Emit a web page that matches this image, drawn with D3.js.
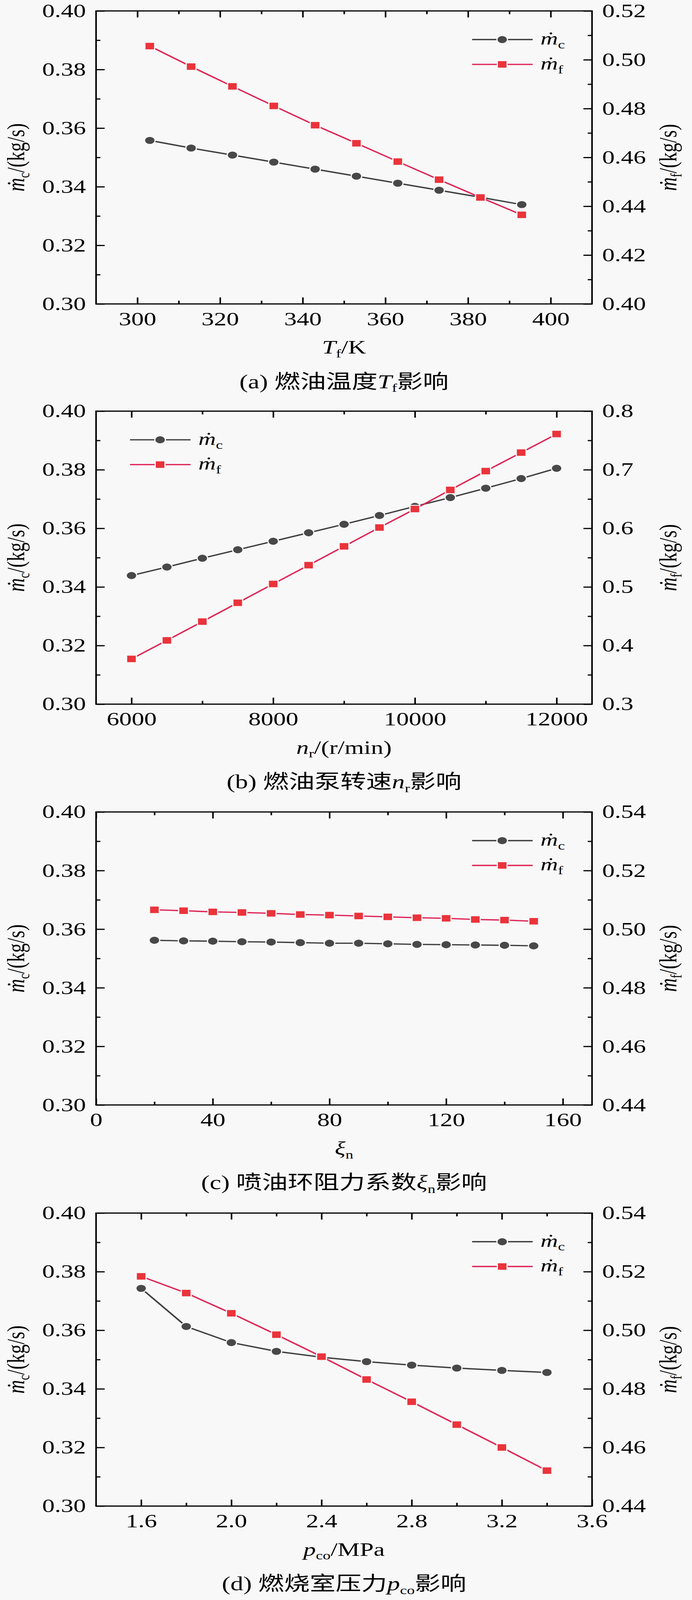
<!DOCTYPE html>
<html>
<head>
<meta charset="utf-8">
<script src="https://cdn.jsdelivr.net/npm/d3@7"></script>
<style>
  html, body { margin: 0; padding: 0; background: #f8f8f8; overflow: hidden; }
  svg { display: block; }
  text { font-family: "Liberation Serif", "Times New Roman", serif; fill: #000; }
  .cjk { font-family: "Noto Sans CJK SC", sans-serif; }
</style>
</head>
<body>
<svg id="chart"></svg>
<script>
// ---- data ----
// (a) fuel temperature
const tempK = [303, 313, 323, 333, 343, 353, 363, 373, 383, 393];
const tempMc = [0.3558, 0.3532, 0.3508, 0.3484, 0.3460, 0.3436, 0.3412, 0.3388, 0.3364, 0.3339];
const tempMf = [0.5056, 0.4972, 0.4891, 0.4811, 0.4732, 0.4658, 0.4583, 0.4509, 0.4436, 0.4365];

// (b) fuel pump speed
const pumpSpeed = [6000, 6500, 7000, 7500, 8000, 8500, 9000, 9500, 10000, 10500, 11000, 11500, 12000];
const pumpMc = [0.3439, 0.3468, 0.3498, 0.3527, 0.3556, 0.3585, 0.3614, 0.3644, 0.3675, 0.3705, 0.3737, 0.3770, 0.3805];
const pumpMf = [0.3772, 0.4088, 0.4409, 0.4730, 0.5051, 0.5372, 0.5693, 0.6014, 0.6330, 0.6656, 0.6977, 0.7293, 0.7610];

// (c) injection ring resistance coefficient
const resistXi = [20, 30, 40, 50, 60, 70, 80, 90, 100, 110, 120, 130, 140, 150];
const resistMc = [0.3562, 0.3560, 0.3559, 0.3557, 0.3556, 0.3554, 0.3552, 0.3552, 0.3550, 0.3548, 0.3547, 0.3546, 0.3545, 0.3543];
const resistMf = [0.5066, 0.5063, 0.5059, 0.5057, 0.5054, 0.5050, 0.5048, 0.5045, 0.5042, 0.5039, 0.5037, 0.5033, 0.5031, 0.5027];

// (d) combustion chamber pressure
const pressMPa = [1.6, 1.8, 2.0, 2.2, 2.4, 2.6, 2.8, 3.0, 3.2, 3.4];
const pressMc = [0.3743, 0.3613, 0.3558, 0.3528, 0.3508, 0.3493, 0.3481, 0.3471, 0.3463, 0.3456];
const pressMf = [0.5184, 0.5127, 0.5058, 0.4985, 0.4910, 0.4832, 0.4756, 0.4678, 0.4600, 0.4521];

// ticks
const mcTicks = [0.30, 0.32, 0.34, 0.36, 0.38, 0.40];
const mcMinor = [0.31, 0.33, 0.35, 0.37, 0.39];
const tempTicks = [300, 320, 340, 360, 380, 400];
const tempMinor = [310, 330, 350, 370, 390];
const tempMfTicks = [0.40, 0.42, 0.44, 0.46, 0.48, 0.50, 0.52];
const tempMfMinor = [0.41, 0.43, 0.45, 0.47, 0.49, 0.51];
const pumpTicks = [6000, 8000, 10000, 12000];
const pumpMinor = [7000, 9000, 11000];
const pumpMfTicks = [0.3, 0.4, 0.5, 0.6, 0.7, 0.8];
const pumpMfMinor = [0.35, 0.45, 0.55, 0.65, 0.75];
const resistTicks = [0, 40, 80, 120, 160];
const resistMinor = [20, 60, 100, 140];
const mf54Ticks = [0.44, 0.46, 0.48, 0.50, 0.52, 0.54];
const mf54Minor = [0.45, 0.47, 0.49, 0.51, 0.53];
const pressTicks = [1.6, 2.0, 2.4, 2.8, 3.2, 3.6];
const pressMinor = [1.8, 2.2, 2.6, 3.0, 3.4];

const panels = [
  { top: 37, xDomain: [290, 410], xTicks: tempTicks, xMinor: tempMinor, xFmt: d3.format('d'),
    xs: tempK, mc: tempMc, mf: tempMf,
    rDomain: [0.40, 0.52], rTicks: tempMfTicks, rMinor: tempMfMinor, rFmt: d3.format('.2f'),
    xTitle: [['T', 'i'], ['f', 's'], ['/K', 'n']],
    caption: [['(a) ', 'n'], ['燃油温度', 'c'], ['T', 'i'], ['f', 's'], ['影响', 'c']],
    legendLeft: false },
  { top: 1392, xDomain: [5500, 12500], xTicks: pumpTicks, xMinor: pumpMinor, xFmt: d3.format('d'),
    xs: pumpSpeed, mc: pumpMc, mf: pumpMf,
    rDomain: [0.3, 0.8], rTicks: pumpMfTicks, rMinor: pumpMfMinor, rFmt: d3.format('.1f'),
    xTitle: [['n', 'i'], ['r', 's'], ['/(r/min)', 'n']],
    caption: [['(b) ', 'n'], ['燃油泵转速', 'c'], ['n', 'i'], ['r', 's'], ['影响', 'c']],
    legendLeft: true },
  { top: 2749, xDomain: [0, 170], xTicks: resistTicks, xMinor: resistMinor, xFmt: d3.format('d'),
    xs: resistXi, mc: resistMc, mf: resistMf,
    rDomain: [0.44, 0.54], rTicks: mf54Ticks, rMinor: mf54Minor, rFmt: d3.format('.2f'),
    xTitle: [['ξ', 'i'], ['n', 's']],
    caption: [['(c) ', 'n'], ['喷油环阻力系数', 'c'], ['ξ', 'i'], ['n', 's'], ['影响', 'c']],
    legendLeft: false },
  { top: 4107, xDomain: [1.4, 3.6], xTicks: pressTicks, xMinor: pressMinor, xFmt: d3.format('.1f'),
    xs: pressMPa, mc: pressMc, mf: pressMf,
    rDomain: [0.44, 0.54], rTicks: mf54Ticks, rMinor: mf54Minor, rFmt: d3.format('.2f'),
    xTitle: [['p', 'i'], ['co', 's'], ['/MPa', 'n']],
    caption: [['(d) ', 'n'], ['燃烧室压力', 'c'], ['p', 'i'], ['co', 's'], ['影响', 'c']],
    legendLeft: false }
];

// the figure is laid out on a 1772 x 5417 canvas; the window can be shorter,
// so the svg is squeezed vertically to whatever height is actually visible
const W = 1772, H = 5417;
const viewH = Math.min(window.innerHeight || H, H);
const bg = '#f8f8f8';
const svg = d3.select('#chart')
  .attr('width', W).attr('height', viewH)
  .attr('viewBox', `0 0 ${W} ${H}`)
  .attr('preserveAspectRatio', 'none');
svg.append('rect').attr('width', W).attr('height', H).attr('fill', bg);

const plotLeft = 246, plotRight = 1516, plotH = 992;
const mcColor = '#404040', mcFill = '#484848';
const mfColor = '#df2658', mfFill = '#ea333b';
const fontSize = 64, subSize = 40, subShift = 13;

// writes a list of [text, style] runs into a text node; s = subscript
function addRuns(textSel, runs) {
  let shifted = false;
  runs.forEach(([str, kind]) => {
    const t = textSel.append('tspan').text(str);
    if (kind === 'i') t.style('font-style', 'italic');
    if (kind === 'c') t.attr('class', 'cjk');
    if (kind === 's') {
      t.attr('font-size', subSize).attr('dy', subShift);
      shifted = true;
    } else if (shifted) {
      t.attr('dy', -subShift);
      shifted = false;
    }
  });
  return textSel;
}

function styleTicks(sel, withLabels) {
  sel.select('.domain').remove();
  sel.selectAll('.tick line').attr('stroke', '#000').attr('stroke-width', 4);
  if (withLabels) {
    sel.selectAll('.tick text').style('font-size', fontSize + 'px').attr('fill', '#000');
  } else {
    sel.selectAll('.tick text').remove();
  }
}

panels.forEach(p => {
  const g = svg.append('g').attr('transform', `translate(0,${p.top})`);

  const x = d3.scaleLinear().domain(p.xDomain).range([plotLeft, plotRight]);
  const yL = d3.scaleLinear().domain([0.30, 0.40]).range([plotH, 0]);
  const yR = d3.scaleLinear().domain(p.rDomain).range([plotH, 0]);

  // major ticks with labels
  g.append('g').attr('transform', `translate(0,${plotH})`)
    .call(d3.axisBottom(x).tickValues(p.xTicks).tickFormat(p.xFmt).tickSize(-22).tickPadding(27))
    .call(s => styleTicks(s, true));
  g.append('g').attr('transform', `translate(${plotLeft},0)`)
    .call(d3.axisLeft(yL).tickValues(mcTicks).tickFormat(d3.format('.2f')).tickSize(-22).tickPadding(26))
    .call(s => styleTicks(s, true));
  g.append('g').attr('transform', `translate(${plotRight},0)`)
    .call(d3.axisRight(yR).tickValues(p.rTicks).tickFormat(p.rFmt).tickSize(-22).tickPadding(26))
    .call(s => styleTicks(s, true));
  g.append('g')
    .call(d3.axisTop(x).tickValues(p.xTicks).tickSize(-22))
    .call(s => styleTicks(s, false));

  // minor ticks
  g.append('g').attr('transform', `translate(0,${plotH})`)
    .call(d3.axisBottom(x).tickValues(p.xMinor).tickSize(-11))
    .call(s => styleTicks(s, false));
  g.append('g')
    .call(d3.axisTop(x).tickValues(p.xMinor).tickSize(-11))
    .call(s => styleTicks(s, false));
  g.append('g').attr('transform', `translate(${plotLeft},0)`)
    .call(d3.axisLeft(yL).tickValues(mcMinor).tickSize(-11))
    .call(s => styleTicks(s, false));
  g.append('g').attr('transform', `translate(${plotRight},0)`)
    .call(d3.axisRight(yR).tickValues(p.rMinor).tickSize(-11))
    .call(s => styleTicks(s, false));

  // frame
  g.append('rect')
    .attr('x', plotLeft).attr('y', 0)
    .attr('width', plotRight - plotLeft).attr('height', plotH)
    .attr('fill', 'none').attr('stroke', '#000').attr('stroke-width', 4);

  // series (markers get a thin background halo, like the gap-to-symbol of the original)
  const mcPts = p.xs.map((v, i) => [v, p.mc[i]]);
  const mfPts = p.xs.map((v, i) => [v, p.mf[i]]);

  g.append('path').datum(mcPts)
    .attr('d', d3.line().x(d => x(d[0])).y(d => yL(d[1])))
    .attr('fill', 'none').attr('stroke', mcColor).attr('stroke-width', 4.5);
  g.selectAll('.mc-dot').data(mcPts).join('circle')
    .attr('class', 'mc-dot')
    .attr('cx', d => x(d[0])).attr('cy', d => yL(d[1])).attr('r', 13.5)
    .attr('fill', mcFill).attr('stroke', bg).attr('stroke-width', 3);

  g.append('path').datum(mfPts)
    .attr('d', d3.line().x(d => x(d[0])).y(d => yR(d[1])))
    .attr('fill', 'none').attr('stroke', mfColor).attr('stroke-width', 4.5);
  g.selectAll('.mf-sq').data(mfPts).join('rect')
    .attr('class', 'mf-sq')
    .attr('x', d => x(d[0]) - 12.5).attr('y', d => yR(d[1]) - 12.5)
    .attr('width', 25).attr('height', 25)
    .attr('fill', mfFill).attr('stroke', bg).attr('stroke-width', 3);

  // legend
  const lx = p.legendLeft ? 333 : 1209;
  const legendRows = [
    { y: 97, color: mcColor, fill: mcFill, shape: 'circle', sub: 'c' },
    { y: 181, color: mfColor, fill: mfFill, shape: 'square', sub: 'f' }
  ];
  legendRows.forEach(r => {
    g.append('line')
      .attr('x1', lx).attr('x2', lx + 155).attr('y1', r.y).attr('y2', r.y)
      .attr('stroke', r.color).attr('stroke-width', 4.5);
    if (r.shape === 'circle') {
      g.append('circle').attr('cx', lx + 77).attr('cy', r.y).attr('r', 13.5)
        .attr('fill', r.fill).attr('stroke', bg).attr('stroke-width', 3);
    } else {
      g.append('rect').attr('x', lx + 64.5).attr('y', r.y - 12.5)
        .attr('width', 25).attr('height', 25)
        .attr('fill', r.fill).attr('stroke', bg).attr('stroke-width', 3);
    }
    const t = g.append('text').attr('x', lx + 175).attr('y', r.y + 17).style('font-size', '62px');
    addRuns(t, [['ṁ', 'i'], [r.sub, 's']]);
  });

  // axis titles
  const midY = plotH / 2;
  const lt = g.append('text')
    .attr('transform', `translate(62,${midY}) rotate(-90)`)
    .attr('text-anchor', 'middle').style('font-size', fontSize + 'px');
  addRuns(lt, [['ṁ', 'i'], ['c', 's'], ['/(kg/s)', 'n']]);

  const rt = g.append('text')
    .attr('transform', `translate(1732,${midY}) rotate(-90)`)
    .attr('text-anchor', 'middle').style('font-size', fontSize + 'px');
  addRuns(rt, [['ṁ', 'i'], ['f', 's'], ['/(kg/s)', 'n']]);

  const xt = g.append('text')
    .attr('x', (plotLeft + plotRight) / 2).attr('y', plotH + 168)
    .attr('text-anchor', 'middle').style('font-size', fontSize + 'px');
  addRuns(xt, p.xTitle);

  const cap = g.append('text')
    .attr('x', (plotLeft + plotRight) / 2).attr('y', plotH + 285)
    .attr('text-anchor', 'middle').style('font-size', '66px');
  addRuns(cap, p.caption);
});
</script>
</body>
</html>
